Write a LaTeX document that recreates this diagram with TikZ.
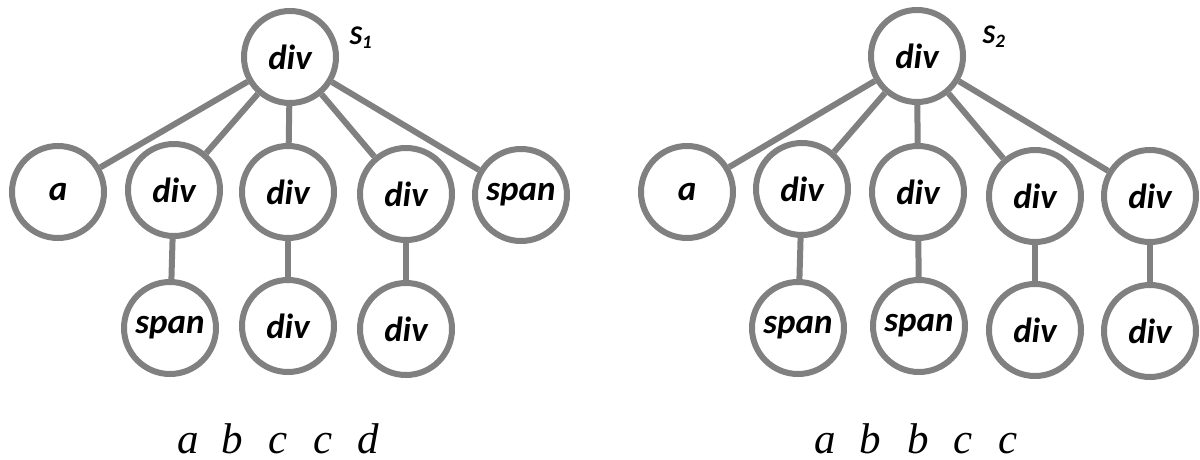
\documentclass[tikz,border=0pt]{standalone}
\usepackage{fontspec}
\setmainfont{Carlito}
\newfontfamily\seriffam{Liberation Serif}
\definecolor{edgegray}{RGB}{128,128,128}
\begin{document}
\begin{tikzpicture}[x=1pt,y=-1pt,
  tnode/.style={circle,draw=edgegray,line width=6pt,minimum size=92pt,inner sep=0pt,
    font=\fontsize{35}{37}\selectfont\bfseries\itshape},
  tedge/.style={draw=edgegray,line width=6pt},
  slabel/.style={inner sep=0pt,font=\fontsize{27}{29}\selectfont\bfseries\itshape},
  seq/.style={anchor=base,inner sep=0pt,font=\fontsize{43}{45}\selectfont\seriffam\itshape}]
\useasboundingbox (0,0) rectangle (1200,460);
% left tree
\node[tnode] (L) at (290,57) {div};
\node[tnode] (La) at (58,192) {a};
\node[tnode] (Ld1) at (174,190) {div};
\node[tnode] (Ld2) at (288,192) {div};
\node[tnode] (Ld3) at (406,194) {div};
\node[tnode] (Ls) at (521,195) {span};
\node[tnode] (Lc1) at (170,328) {span};
\node[tnode] (Lc2) at (288,326) {div};
\node[tnode] (Lc3) at (406,329) {div};
\node[slabel] (S1) at (361,38) {S\textsubscript{1}};
\foreach \c in {La,Ld1,Ld2,Ld3,Ls} \draw[tedge] (L) -- (\c);
\draw[tedge] (Ld1) -- (Lc1);
\draw[tedge] (Ld2) -- (Lc2);
\draw[tedge] (Ld3) -- (Lc3);
% right tree
\node[tnode] (R) at (917,56) {div};
\node[tnode] (Ra) at (687,192) {a};
\node[tnode] (Rd1) at (802,189) {div};
\node[tnode] (Rd2) at (918,192) {div};
\node[tnode] (Rd3) at (1035,196) {div};
\node[tnode] (Rd4) at (1150,196) {div};
\node[tnode] (Rc1) at (798,328) {span};
\node[tnode] (Rc2) at (919,326) {span};
\node[tnode] (Rc3) at (1035,330) {div};
\node[tnode] (Rc4) at (1150,331) {div};
\node[slabel] (S2) at (994,37) {S\textsubscript{2}};
\foreach \c in {Ra,Rd1,Rd2,Rd3,Rd4} \draw[tedge] (R) -- (\c);
\draw[tedge] (Rd1) -- (Rc1);
\draw[tedge] (Rd2) -- (Rc2);
\draw[tedge] (Rd3) -- (Rc3);
\draw[tedge] (Rd4) -- (Rc4);
% sequences
\node[seq] (q1) at (188,453) {a};
\node[seq] (q2) at (232,453) {b};
\node[seq] (q3) at (278,453) {c};
\node[seq] (q4) at (323,453) {c};
\node[seq] (q5) at (368,453) {d};
\node[seq] (p1) at (825,453) {a};
\node[seq] (p2) at (870,453) {b};
\node[seq] (p3) at (918,453) {b};
\node[seq] (p4) at (963,453) {c};
\node[seq] (p5) at (1008,453) {c};
\end{tikzpicture}
\end{document}
